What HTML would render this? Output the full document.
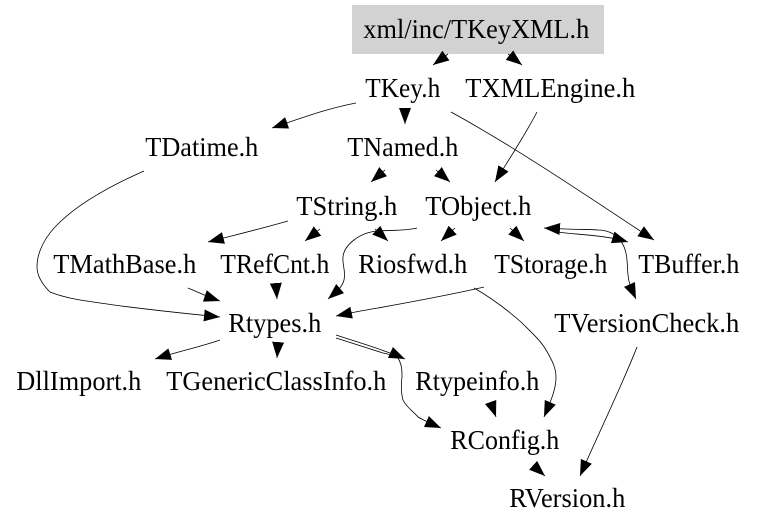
<!DOCTYPE html>
<html>
<head>
<meta charset="utf-8">
<title>xml/inc/TKeyXML.h include graph</title>
<style>
html,body{margin:0;padding:0;background:#fff;}
svg{display:block;}
text{font-family:"Liberation Serif",serif;font-size:27px;fill:#000;}
.e{fill:none;stroke:#000;stroke-width:.8;marker-end:url(#a);}
</style>
</head>
<body>
<svg width="757" height="528" viewBox="0 0 757 528" xmlns="http://www.w3.org/2000/svg">
<defs>
<marker id="a" markerUnits="userSpaceOnUse" markerWidth="17" markerHeight="14" refX="16" refY="7" orient="auto">
<path d="M0,1L16,7L0,13z" fill="#000"/>
</marker>
</defs>
<rect width="757" height="528" fill="#fff"/>
<rect x="352" y="5" width="252" height="49" fill="#d2d2d2"/>

<path class="e" d="M448,54L433,65"/>
<path class="e" d="M508,54L522,65"/>
<path class="e" d="M356,103C330,108 310,115 272,128"/>
<path class="e" d="M405,108L405,124"/>
<path class="e" d="M537,112C525,135 510,158 495,182"/>
<path class="e" d="M451,112C520,150 590,198 654,240"/>
<path class="e" d="M385,170L371,182"/>
<path class="e" d="M436,170L450,182"/>
<path class="e" d="M288,221C260,229 235,235 208,242"/>
<path class="e" d="M320,229L305,241"/>
<path class="e" d="M375,229L388,241"/>
<path class="e" d="M455,228L441,241"/>
<path class="e" d="M510,228L524,241"/>
<path class="e" d="M417,228C405,231 392,230 378,231C360,232 344,245 343,257C342,265 346,270 344,280C342,288 335,293 328,299"/>
<path class="e" d="M598,230C590,229 575,230 544,228"/>
<path class="e" d="M557,232C580,235 605,235 628,242"/>
<path class="e" d="M598,230C610,230 618,236 622,243C628,252 627,265 628,275C629,285 632,290 636,299"/>
<path class="e" d="M144,171C110,186 80,203 60,222C45,236 37,252 37,267C37,275 41,283 50,292C65,298 80,300 100,303C140,309 180,313 220,317"/>
<path class="e" d="M188,288C200,293 208,297 220,301"/>
<path class="e" d="M276,285L277,299"/>
<path class="e" d="M484,287C450,295 400,304 378,308C365,310 350,313 336,316"/>
<path class="e" d="M474,288C490,297 505,308 521,322C532,333 541,341 546,350C552,360 556,368 556,377C556,390 550,403 544,417"/>
<path class="e" d="M220,340C200,347 180,351 155,359"/>
<path class="e" d="M278,344L277,358"/>
<path class="e" d="M336,335C360,343 385,350 405,359"/>
<path class="e" d="M336,338C355,344 370,349 383,353C392,355 396,356 398,358C402,365 402,370 402,377C401,385 401,393 403,400C407,408 415,413 418,417C425,421 432,424 441,428"/>
<path class="e" d="M491,403L496,417"/>
<path class="e" d="M535,467L545,476"/>
<path class="e" d="M637,347C620,390 600,430 580,476"/>

<g transform="translate(-0.7,0)">
<text x="364" y="38" textLength="226" lengthAdjust="spacingAndGlyphs">xml/inc/TKeyXML.h</text>
<text x="366" y="97" textLength="75" lengthAdjust="spacingAndGlyphs">TKey.h</text>
<text x="466" y="97" textLength="170" lengthAdjust="spacingAndGlyphs">TXMLEngine.h</text>
<text x="146" y="156" textLength="113" lengthAdjust="spacingAndGlyphs">TDatime.h</text>
<text x="348" y="156" textLength="111" lengthAdjust="spacingAndGlyphs">TNamed.h</text>
<text x="297" y="215" textLength="101" lengthAdjust="spacingAndGlyphs">TString.h</text>
<text x="426" y="215" textLength="106" lengthAdjust="spacingAndGlyphs">TObject.h</text>
<text x="54" y="273" textLength="143" lengthAdjust="spacingAndGlyphs">TMathBase.h</text>
<text x="221" y="273" textLength="109" lengthAdjust="spacingAndGlyphs">TRefCnt.h</text>
<text x="359" y="273" textLength="109" lengthAdjust="spacingAndGlyphs">Riosfwd.h</text>
<text x="495" y="273" textLength="113" lengthAdjust="spacingAndGlyphs">TStorage.h</text>
<text x="639" y="273" textLength="101" lengthAdjust="spacingAndGlyphs">TBuffer.h</text>
<text x="229" y="332" textLength="93" lengthAdjust="spacingAndGlyphs">Rtypes.h</text>
<text x="555" y="332" textLength="185" lengthAdjust="spacingAndGlyphs">TVersionCheck.h</text>
<text x="17" y="390" textLength="125" lengthAdjust="spacingAndGlyphs">DllImport.h</text>
<text x="167" y="390" textLength="220" lengthAdjust="spacingAndGlyphs">TGenericClassInfo.h</text>
<text x="416" y="390" textLength="124" lengthAdjust="spacingAndGlyphs">Rtypeinfo.h</text>
<text x="451" y="449" textLength="109" lengthAdjust="spacingAndGlyphs">RConfig.h</text>
<text x="510" y="507" textLength="116" lengthAdjust="spacingAndGlyphs">RVersion.h</text>
</g>
</svg>
</body>
</html>
